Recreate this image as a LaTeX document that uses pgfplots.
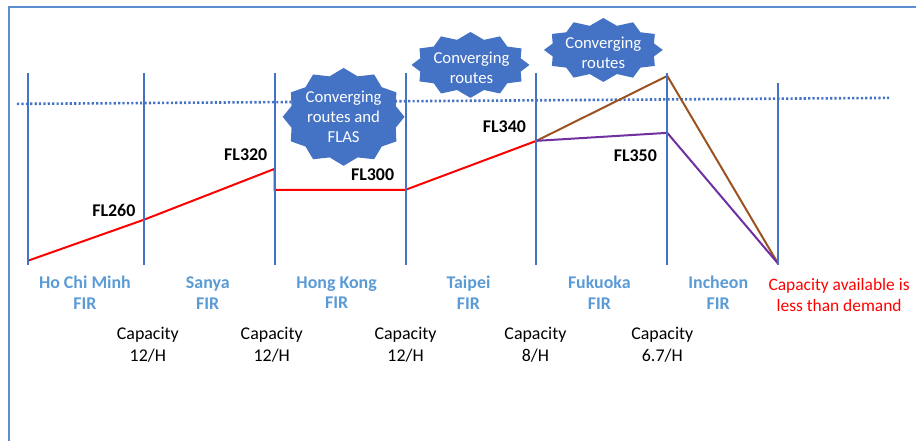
\documentclass[border=0pt]{standalone}
\usepackage{pgfplots}
\pgfplotsset{compat=1.18}
\usepackage{fontspec}
\setmainfont{Carlito}
\usetikzlibrary{shapes.symbols}

\definecolor{frameblue}{HTML}{5B8FD0}
\definecolor{lineblue}{HTML}{4472C4}
\definecolor{firblue}{HTML}{5B9BD5}
\definecolor{routebrown}{HTML}{9C5220}
\definecolor{routepurple}{HTML}{7030A0}

\tikzset{
  lbl/.style={align=center, inner sep=0pt, font=\fontsize{18}{22}\selectfont},
  fl/.style={lbl, font=\fontsize{18}{21}\selectfont\bfseries},
  fir/.style={lbl, text=firblue, font=\fontsize{18}{21}\selectfont\bfseries},
  burst/.style={starburst, starburst points=12, starburst point height=7bp,
      random starburst=0, fill=lineblue, draw=none, inner sep=0pt},
  bursttext/.style={align=center, inner sep=0pt, text=white, font=\fontsize{16.8}{20}\selectfont},
}

\begin{document}
\begin{tikzpicture}
\begin{axis}[
    scale only axis,
    width=917bp, height=441bp,
    xmin=0, xmax=917, ymin=0, ymax=441,
    y dir=reverse,
    hide axis,
    clip=false,
  ]
  % page area
  \path (axis cs:0,0) rectangle (axis cs:917,441);

  % frame
  \addplot[frameblue, line width=2bp] coordinates {(9,441) (9,7) (917,7)};

  % dotted reference level
  \addplot[lineblue, line width=2.6bp, dash pattern=on 2.2bp off 2.2bp]
    coordinates {(17,104) (890,98)};

  % routes
  \addplot[red, line width=2bp] coordinates {(28,261) (144,220) (275,169) (275,190) (406,190) (537,141)};
  \addplot[routebrown, line width=2bp] coordinates {(537,141) (668,76) (779,264)};
  \addplot[routepurple, line width=2bp] coordinates {(537,141) (668,133) (779,264)};

  % FIR boundaries
  \addplot[lineblue, line width=2bp] coordinates {(28,73) (28,265)};
  \addplot[lineblue, line width=2bp] coordinates {(144,73) (144,265)};
  \addplot[lineblue, line width=2bp] coordinates {(275,73) (275,265)};
  \addplot[lineblue, line width=2bp] coordinates {(406,73) (406,265)};
  \addplot[lineblue, line width=2bp] coordinates {(537,73) (537,265)};
  \addplot[lineblue, line width=2bp] coordinates {(668,73) (668,265)};
  \addplot[lineblue, line width=2bp] coordinates {(779,83) (779,265)};

  % flight levels
  \node[fl] at (axis cs:114,211) {FL260};
  \node[fl] at (axis cs:246,155) {FL320};
  \node[fl] at (axis cs:373,175) {FL300};
  \node[fl] at (axis cs:505,127) {FL340};
  \node[fl] at (axis cs:636,156) {FL350};

  % FIR names
  \node[fir] at (axis cs:85,293) {Ho Chi Minh\\FIR};
  \node[fir] at (axis cs:208,293) {Sanya\\FIR};
  \node[fir] at (axis cs:337,293) {Hong Kong\\FIR};
  \node[fir] at (axis cs:469,293) {Taipei\\FIR};
  \node[fir] at (axis cs:600,293) {Fukuoka\\FIR};
  \node[fir] at (axis cs:719,293) {Incheon\\FIR};
  \node[lbl, text=red, font=\fontsize{17.5}{21}\selectfont] at (axis cs:840,295) {Capacity available is\\less than demand};

  % capacities
  \node[lbl] at (axis cs:148,345) {Capacity\\12/H};
  \node[lbl] at (axis cs:272,345) {Capacity\\12/H};
  \node[lbl] at (axis cs:406,345) {Capacity\\12/H};
  \node[lbl] at (axis cs:536,345) {Capacity\\8/H};
  \node[lbl] at (axis cs:663,345) {Capacity\\6.7/H};

  % bottlenecks
  \node[burst, minimum width=122bp, minimum height=98bp] at (axis cs:344,117) {};
  \node[bursttext] at (axis cs:344,117) {Converging\\routes and\\FLAS};
  \node[burst, minimum width=118bp, minimum height=66bp] at (axis cs:471,65) {};
  \node[bursttext] at (axis cs:472,68) {Converging\\routes};
  \node[burst, minimum width=119bp, minimum height=64bp] at (axis cs:604,50) {};
  \node[bursttext] at (axis cs:604,53) {Converging\\routes};
\end{axis}
\end{tikzpicture}
\end{document}
